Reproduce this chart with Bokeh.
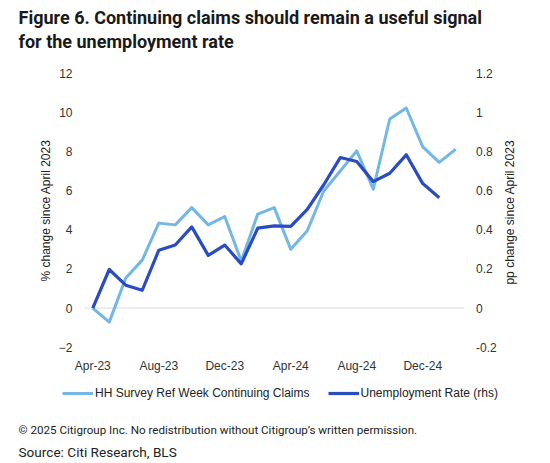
import math
from bokeh.plotting import figure
from bokeh.models import (Range1d, LinearAxis, FixedTicker, NumeralTickFormatter,
                          Legend, LegendItem, Label)
from bokeh.embed import file_html
from bokeh.resources import INLINE

months = ["Apr-23", "May-23", "Jun-23", "Jul-23", "Aug-23", "Sep-23", "Oct-23",
          "Nov-23", "Dec-23", "Jan-24", "Feb-24", "Mar-24", "Apr-24", "May-24",
          "Jun-24", "Jul-24", "Aug-24", "Sep-24", "Oct-24", "Nov-24", "Dec-24",
          "Jan-25", "Feb-25"]
claims = [0.0, -0.72, 1.54, 2.45, 4.34, 4.25, 5.13, 4.25, 4.68, 2.4, 4.8, 5.13,
          3.0, 3.95, 5.98, 7.0, 8.03, 6.07, 9.66, 10.22, 8.24, 7.44, 8.12]
unemp = [0.0, 0.197, 0.117, 0.091, 0.295, 0.322, 0.415, 0.269, 0.322, 0.226,
         0.408, 0.42, 0.417, 0.504, 0.63, 0.769, 0.749, 0.646, 0.689, 0.783,
         0.636, 0.564]
left_ticks = [-2, 0, 2, 4, 6, 8, 10, 12]
right_ticks = [-0.2, 0, 0.2, 0.4, 0.6, 0.8, 1.0, 1.2]
x_tick_idx = [0, 4, 8, 12, 16, 20]

title_1 = "Figure 6. Continuing claims should remain a useful signal"
title_2 = "for the unemployment rate"
footer_1 = "\u00a9 2025 Citigroup Inc. No redistribution without Citigroup\u2019s written permission."
footer_2 = "Source: Citi Research, BLS"
lhs_label = "% change since April 2023"
rhs_label = "pp change since  April 2023"
claims_name = "HH Survey Ref Week Continuing Claims"
unemp_name = "Unemployment Rate (rhs)"

LIGHT = "#72B7E6"
DARK = "#2A4CC2"
FONT = "Liberation Sans"
TFONT = "Roboto"

# ---- layout (pixels on the 550x463 canvas) ----
W, H = 550, 463
PX_FIRST = 92.25      # pixel x of the first month
PX_STEP = 16.5        # pixels per month
PX_TOP = 72.7         # pixel y of the top left tick (12)
PX_BOT = 346.7        # pixel y of the bottom left tick (-2)
BASE_FIX = 5          # text baseline correction (px)
y_lo, y_hi = left_ticks[0], left_ticks[-1]
y_scale = (PX_BOT - PX_TOP) / (y_hi - y_lo)
x_start = -PX_FIRST / PX_STEP
x_end = (W - PX_FIRST) / PX_STEP
y_end = y_hi + PX_TOP / y_scale
y_start = y_lo - (H - PX_BOT) / y_scale
r_ratio = (right_ticks[-1] - right_ticks[0]) / (y_hi - y_lo)

p = figure(width=W, height=H, output_backend="svg", toolbar_location=None,
           title=None, x_range=Range1d(x_start, x_end),
           y_range=Range1d(y_start, y_end),
           min_border_left=0, min_border_right=0, min_border_top=0,
           min_border_bottom=0)
p.outline_line_color = None
p.extra_y_ranges = {"rhs": Range1d(y_start * r_ratio, y_end * r_ratio)}
p.xgrid.visible = False
p.ygrid.visible = False

def style_axis(ax):
    ax.axis_line_color = None
    ax.major_tick_line_color = None
    ax.minor_tick_line_color = None
    ax.major_tick_out = 0
    ax.major_tick_in = 0
    ax.major_label_text_font = FONT
    ax.major_label_text_font_size = "12px"
    ax.major_label_text_color = "#333333"

slot_lo = -0.5
slot_hi = len(months) - 0.5

xa = p.xaxis[0]
style_axis(xa)
xa.ticker = FixedTicker(ticks=x_tick_idx)
xa.major_label_overrides = {i: months[i] for i in x_tick_idx}
xa.major_label_standoff = 12
xa.fixed_location = y_lo

ya = p.yaxis[0]
style_axis(ya)
ya.ticker = FixedTicker(ticks=left_ticks)
ya.major_label_standoff = 12
ya.fixed_location = slot_lo

ra = LinearAxis(y_range_name="rhs")
style_axis(ra)
ra.ticker = FixedTicker(ticks=right_ticks)
ra.formatter = NumeralTickFormatter(format="0.[0]")
ra.major_label_standoff = 12
ra.fixed_location = slot_hi
p.add_layout(ra, "right")

# zero line across the plotting slots
p.segment(x0=[slot_lo], y0=[0], x1=[slot_hi], y1=[0], line_color="#D9D9D9",
          line_width=1)

xs_c = list(range(len(claims)))
xs_u = list(range(len(unemp)))
r1 = p.line(xs_c, claims, line_color=LIGHT, line_width=3, line_join="round")
r2 = p.line(xs_u, unemp, line_color=DARK, line_width=3.2, line_join="round",
            y_range_name="rhs")

legend = Legend(items=[LegendItem(label=claims_name, renderers=[r1]),
                       LegendItem(label=unemp_name, renderers=[r2])],
                orientation="horizontal", location=(62, H - 400))
legend.spacing = 18
legend.label_standoff = 2
legend.glyph_width = 31
legend.glyph_height = 12
legend.label_height = 12
legend.padding = 0
legend.margin = 0
legend.border_line_color = None
legend.background_fill_alpha = 0
legend.label_text_font = FONT
legend.label_text_font_size = "12px"
legend.label_text_color = "#222222"
p.add_layout(legend)

def add_label(text, x, y_page, font, size, style="normal", color="#111111",
              angle=0.0, align="left", baseline="alphabetic"):
    p.add_layout(Label(x=x, y=H - y_page, x_units="screen", y_units="screen",
                       text=text, text_font=font, text_font_size=size,
                       text_font_style=style, text_color=color, angle=angle,
                       text_align=align, text_baseline=baseline))

add_label(title_1, 18, 21.7 - BASE_FIX, TFONT, "18px", "bold", color="#1a1a1a")
add_label(title_2, 18, 45.7 - BASE_FIX, TFONT, "18px", "bold", color="#1a1a1a")
add_label(footer_1, 18, 434.3 - BASE_FIX, TFONT, "11.6px", color="#222222")
add_label(footer_2, 18, 456.7 - BASE_FIX, TFONT, "13.6px", color="#222222")
add_label(lhs_label, 45, 210, FONT, "12px", color="#222222", angle=math.pi / 2,
          align="center", baseline="middle")
add_label(rhs_label, 509, 210, FONT, "12px", color="#222222", angle=math.pi / 2,
          align="center", baseline="middle")

open("out.html", "w").write(file_html(p, INLINE))
